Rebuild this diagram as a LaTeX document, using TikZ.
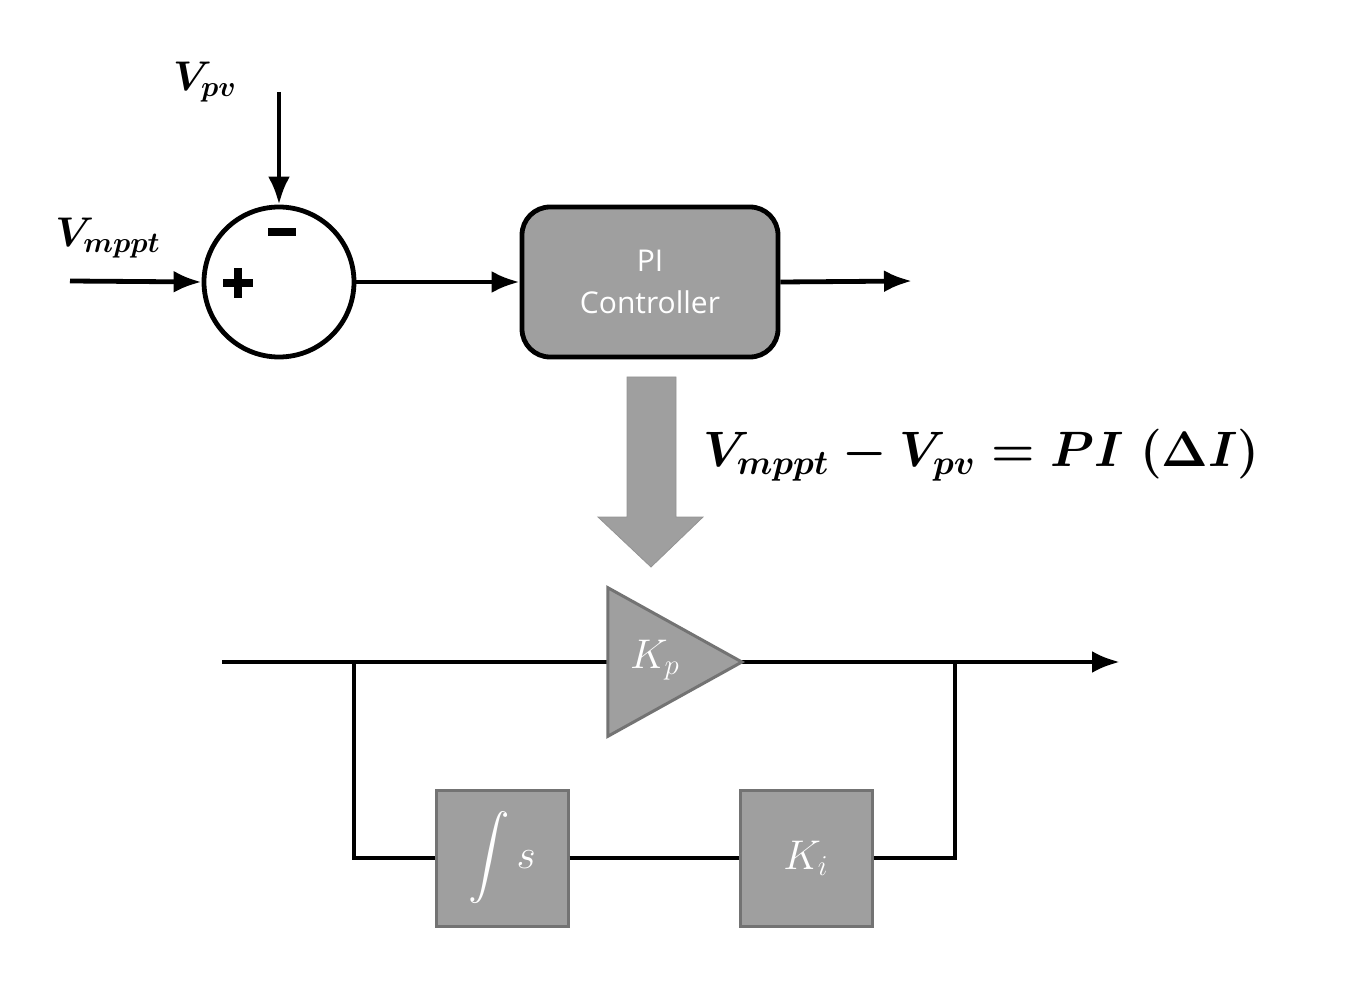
\documentclass[tikz,border=0pt]{standalone}
\usepackage{amsmath}
\usepackage{fontspec}
\newfontfamily\sansf{Open Sans}
\usetikzlibrary{arrows.meta,shapes.geometric}
\begin{document}
\begin{tikzpicture}[x=0.5pt,y=-0.5pt,
  line/.style={line width=2.4pt,black},
  arr/.style={line, -{Latex[length=14pt,width=11pt]}},
  gbox/.style={draw=gray!90!black,line width=1.5pt,fill=gray!75,minimum width=66pt,minimum height=68pt,inner sep=0pt},
  big/.style={font=\fontsize{22}{24}\selectfont\boldmath}]
\useasboundingbox (0,0) rectangle (1356,984);
\node[circle,draw,line width=2.4pt,minimum size=75pt,inner sep=0pt] (sum) at (279,282) {};
\coordinate (vpvs) at (279,92);
\coordinate (vms) at (70,281);
\node[big] (vpv) at (205,82) {$V_{pv}$};
\node[big] (vm) at (108,238) {$V_{mppt}$};
\draw[arr] (vpvs) -- (sum.north);
\draw[arr] (vms) -- (sum.west);
\node[fill=black,minimum width=14pt,minimum height=4pt,inner sep=0pt] (minus) at (282,232) {};
\node[fill=black,minimum width=15pt,minimum height=4pt,inner sep=0pt] (plus) at (238,283) {};
\node[fill=black,minimum width=4pt,minimum height=15pt,inner sep=0pt] (plusv) at (238,283) {};
\node[draw,line width=2.4pt,fill=gray!75,rounded corners=14pt,minimum width=128pt,minimum height=75pt,align=center,text=white,font=\sansf\fontsize{15}{21}\selectfont] (pi) at (650,282) {PI\\Controller};
\draw[arr] (sum.east) -- (pi.west);
\coordinate (piout) at (912,281);
\draw[arr] (pi.east) -- (piout);
\draw[fill=gray!75,draw=gray!85] (627,377) -- (676,377) -- (676,517) -- (703,517) -- (651,567) -- (598,517) -- (627,517) -- cycle;
\node[big,font=\fontsize{25}{28}\selectfont\boldmath,anchor=west] (eq) at (696,455) {$V_{mppt}-V_{pv}=PI\;(\Delta I)$};
\coordinate (in) at (222,662);
\coordinate (out) at (1120,662);
\coordinate (b1) at (354,662);
\coordinate (b2) at (955,662);
\draw[arr] (in) -- (out);
\node[draw=gray!90!black,line width=1.5pt,fill=gray!75,isosceles triangle,isosceles triangle apex angle=58,minimum height=67pt,inner sep=0pt,anchor=apex] (kp) at (745,662) {};
\node[text=white,font=\fontsize{22}{24}\selectfont] (kpt) at (655,660) {$K_p$};
\node[gbox,text=white,font=\fontsize{22}{24}\selectfont] (int) at (502,858) {$\displaystyle\int s$};
\node[gbox,text=white,font=\fontsize{22}{24}\selectfont] (ki) at (806,858) {$K_i$};
\draw[line] (b1) |- (int.west);
\draw[line] (int.east) -- (ki.west);
\draw[line] (ki.east) -| (b2);
\end{tikzpicture}
\end{document}
